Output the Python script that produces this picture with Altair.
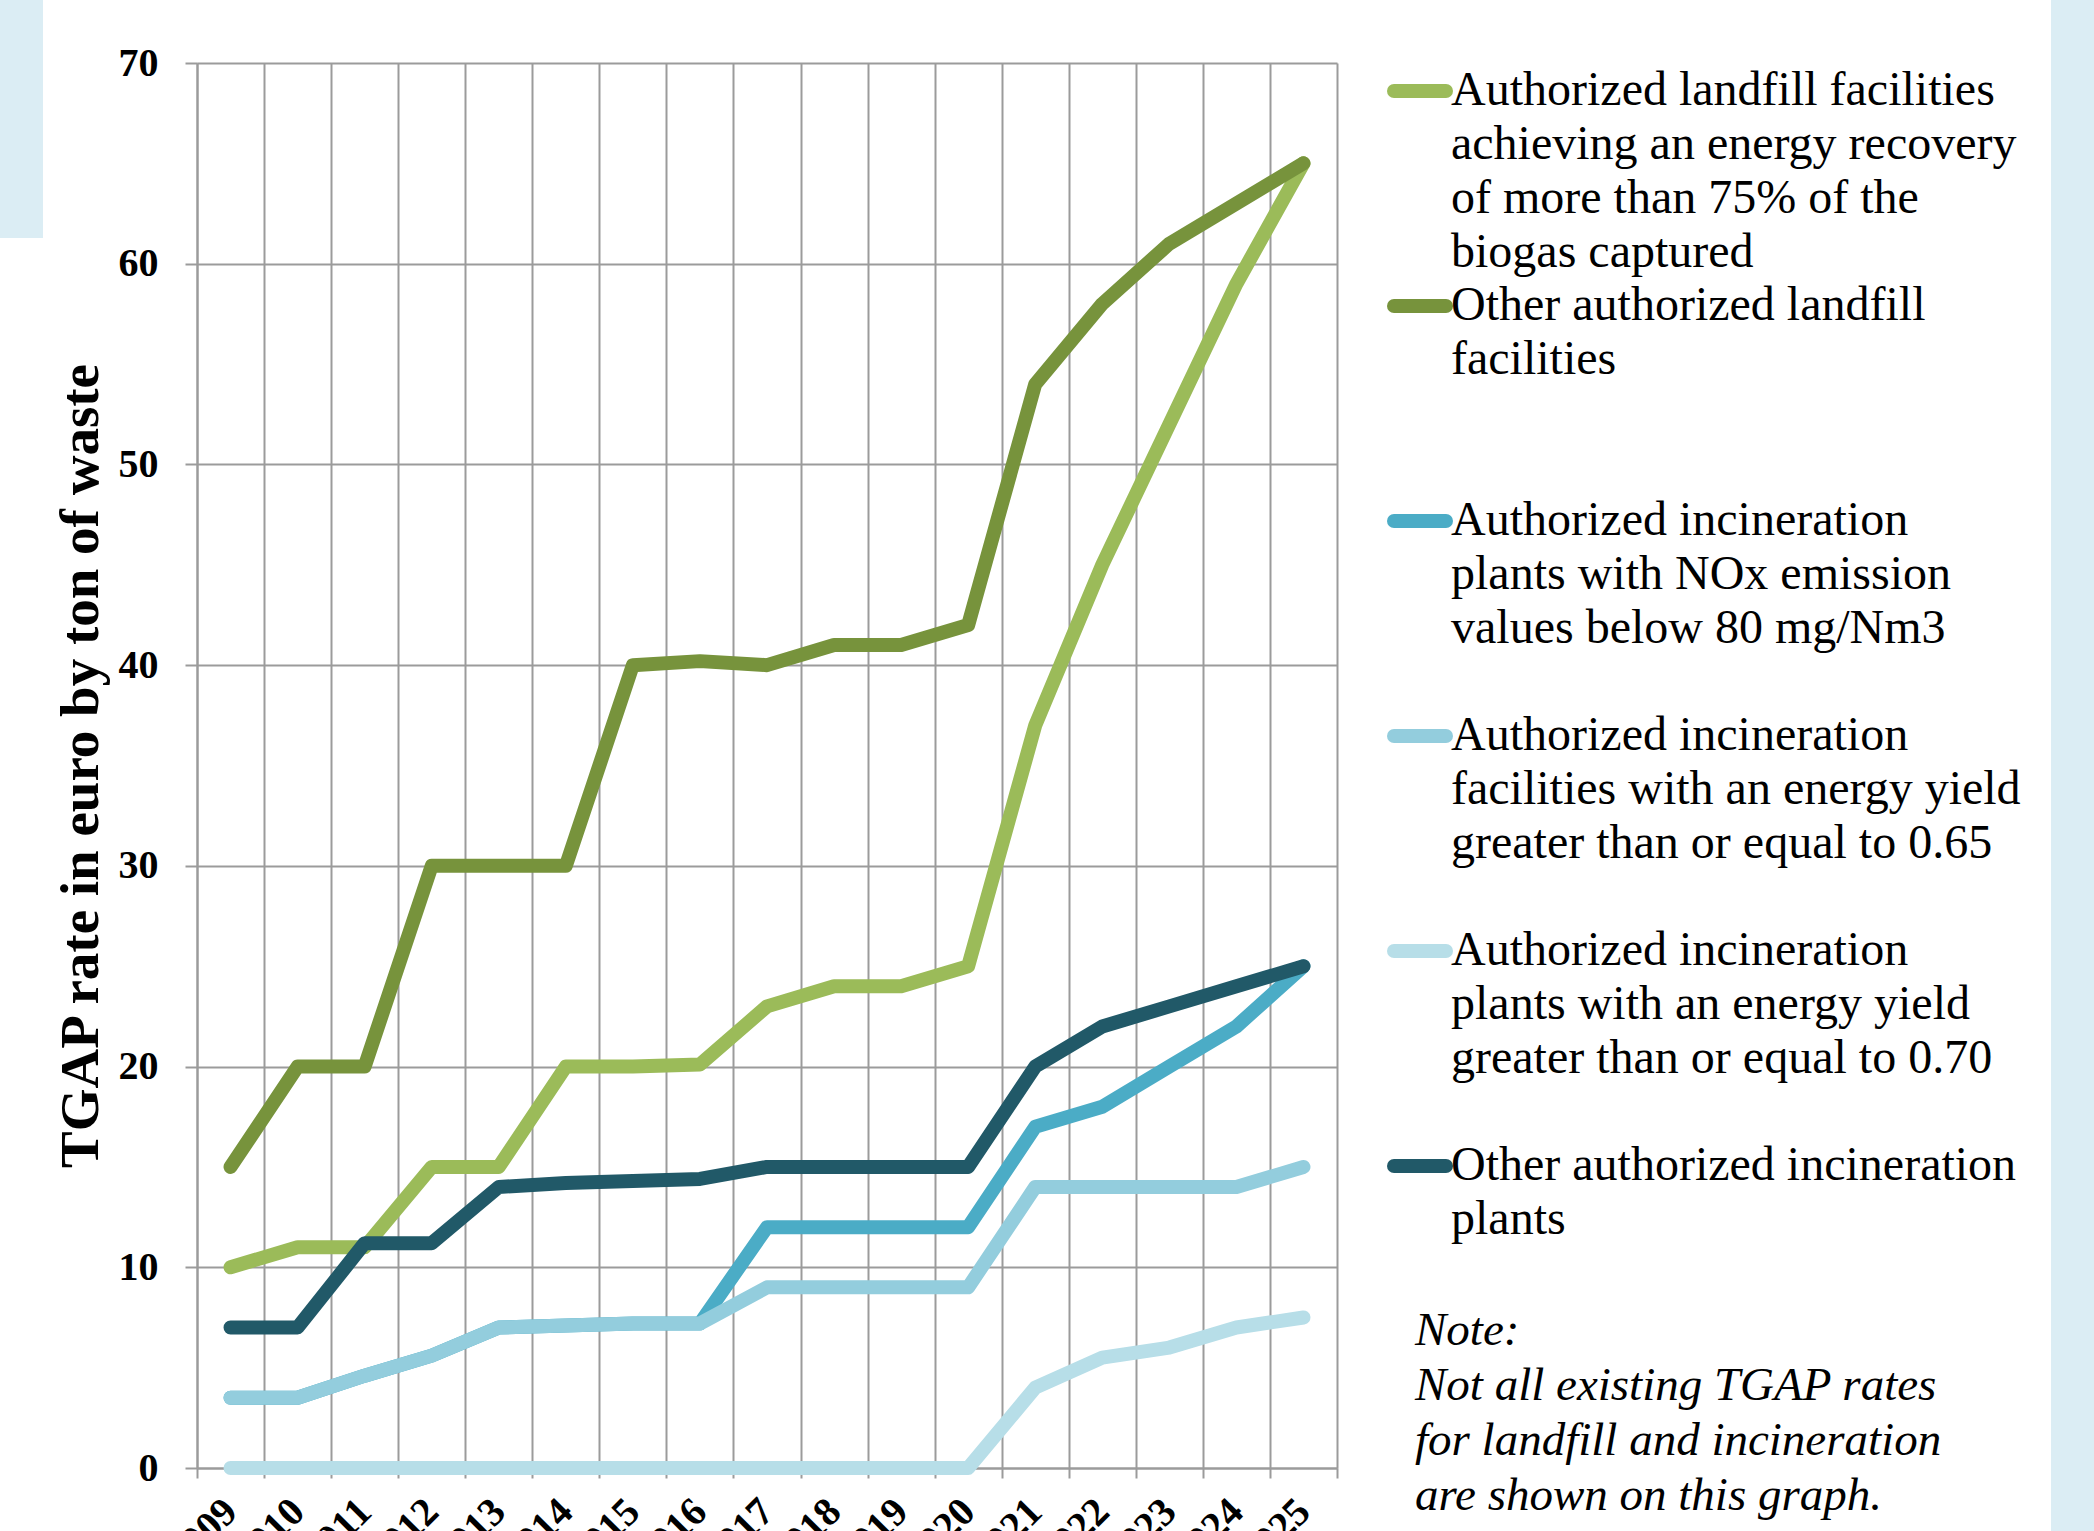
import altair as alt
import pandas as pd

years = ["2009", "2010", "2011", "2012", "2013", "2014", "2015", "2016", "2017",
         "2018", "2019", "2020", "2021", "2022", "2023", "2024", "2025"]

series_names = [
    "Authorized landfill facilities achieving an energy recovery of more than 75% of the biogas captured",
    "Other authorized landfill facilities",
    "Authorized incineration plants with NOx emission values below 80 mg/Nm3",
    "Authorized incineration facilities with an energy yield greater than or equal to 0.65",
    "Authorized incineration plants with an energy yield greater than or equal to 0.70",
    "Other authorized incineration plants",
]
colors = ["#9BBB59", "#77933C", "#4BACC6", "#93CDDD", "#B7DEE8", "#215968"]

landfill_recovery = [10, 11, 11, 15, 15, 20, 20, 20.1, 23, 24, 24, 25, 37, 45, 52, 59, 65]
landfill_other = [15, 20, 20, 30, 30, 30, 40, 40.2, 40, 41, 41, 42, 54, 58, 61, 63, 65]
incin_nox = [3.5, 3.5, 4.6, 5.6, 7, 7.1, 7.2, 7.2, 12, 12, 12, 12, 17, 18, 20, 22, 25]
incin_065 = [3.5, 3.5, 4.6, 5.6, 7, 7.1, 7.2, 7.2, 9, 9, 9, 9, 14, 14, 14, 14, 15]
incin_070 = [0, 0, 0, 0, 0, 0, 0, 0, 0, 0, 0, 0, 4, 5.5, 6, 7, 7.5]
incin_other = [7, 7, 11.2, 11.2, 14, 14.2, 14.3, 14.4, 15, 15, 15, 15, 20, 22, 23, 24, 25]
all_series = [landfill_recovery, landfill_other, incin_nox, incin_065, incin_070, incin_other]

legend_lines = [
    ["Authorized landfill facilities", "achieving an energy recovery", "of more than 75% of the", "biogas captured"],
    ["Other authorized landfill", "facilities"],
    ["Authorized incineration", "plants with NOx emission", "values below 80 mg/Nm3"],
    ["Authorized incineration", "facilities with an energy yield", "greater than or equal to 0.65"],
    ["Authorized incineration", "plants with an energy yield", "greater than or equal to 0.70"],
    ["Other authorized incineration", "plants"],
]
note_lines = ["Note:", "Not all existing TGAP rates", "for landfill and incineration", "are shown on this graph."]
y_ticks = [0, 10, 20, 30, 40, 50, 60, 70]

rows = []
for s, vals in zip(series_names, all_series):
    for yr, v in zip(years, vals):
        rows.append({"year": yr, "value": v, "series": s})
df = pd.DataFrame(rows)

leg_rows = []
for k, (s, lines_) in enumerate(zip(series_names, legend_lines)):
    for j, t in enumerate(lines_):
        leg_rows.append({"entry": k, "line": j, "text": t, "series": s})
leg = pd.DataFrame(leg_rows)
note_df = pd.DataFrame({"line": list(range(len(note_lines))), "text": note_lines})
one = pd.DataFrame({"a": [0]})

SERIF = "Liberation Serif"
GRID = "#9b9b9b"
color_scale = alt.Scale(domain=series_names, range=colors)

band_left = alt.Chart(one).mark_rect(color="#DBEDF4").encode(
    x=alt.value(-197), x2=alt.value(-154), y=alt.value(-63), y2=alt.value(175))
band_right = alt.Chart(one).mark_rect(color="#DBEDF4").encode(
    x=alt.value(1854), x2=alt.value(1897), y=alt.value(-63), y2=alt.value(1468))

lines = alt.Chart(df).mark_line(strokeWidth=14, strokeCap="round", strokeJoin="round").encode(
    x=alt.X("year:O", bandPosition=0.5, sort=years,
            scale=alt.Scale(type="band", paddingInner=0, paddingOuter=0),
            axis=alt.Axis(title=None, tickBand="extent", grid=True, labelAngle=-45,
                          labelAlign="right", labelBaseline="middle", labelPadding=27,
                          labelOverlap=False, tickSize=10)),
    y=alt.Y("value:Q", scale=alt.Scale(domain=[0, 70], nice=False),
            axis=alt.Axis(values=y_ticks, format="d", title="TGAP rate in euro by ton of waste",
                          titleX=-100, titleBaseline="alphabetic", titleFontSize=55,
                          labelPadding=27, tickSize=12)),
    color=alt.Color("series:N", scale=color_scale, legend=None),
)

leg_sym = alt.Chart(leg).transform_filter("datum.line == 0").transform_calculate(
    py="28 + 215 * datum.entry"
).mark_rule(strokeWidth=14, strokeCap="round").encode(
    x=alt.value(1197), x2=alt.value(1249),
    y=alt.Y("py:Q", scale=None, axis=None),
    color=alt.Color("series:N", scale=color_scale, legend=None),
)

leg_text = alt.Chart(leg).transform_calculate(
    py="28 + 215 * datum.entry + 54 * datum.line"
).mark_text(align="left", baseline="middle", font=SERIF, fontSize=48, color="black").encode(
    x=alt.value(1254),
    y=alt.Y("py:Q", scale=None, axis=None),
    text="text:N",
)

note_text = alt.Chart(note_df).transform_calculate(
    py="1268 + 55 * datum.line"
).mark_text(align="left", baseline="middle", font=SERIF, fontSize=47, fontStyle="italic",
            color="black").encode(
    x=alt.value(1218),
    y=alt.Y("py:Q", scale=None, axis=None),
    text="text:N",
)

chart = alt.layer(band_left, band_right, lines, leg_sym, leg_text, note_text).properties(
    width=1140, height=1405,
    padding={"left": 197, "top": 63, "right": 757, "bottom": 63},
    autosize=alt.AutoSizeParams(type="none"),
    background="white",
).configure_view(stroke=None).configure_axis(
    domainColor=GRID, domainWidth=2, gridColor=GRID, gridWidth=2,
    tickColor=GRID, tickWidth=2,
    labelFont=SERIF, labelFontSize=40, labelFontWeight="bold", labelColor="black",
    titleFont=SERIF, titleFontWeight="bold", titleColor="black",
)

chart.save("out.html", embed_options={"renderer": "svg", "actions": False})
